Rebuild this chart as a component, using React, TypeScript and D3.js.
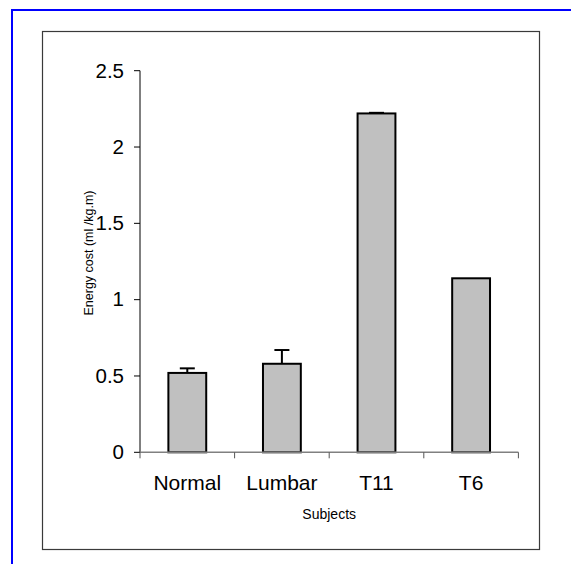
import React from "react";
import * as d3 from "d3";

const categories = ["Normal", "Lumbar", "T11", "T6"];
const values = [0.52, 0.58, 2.22, 1.14];
const errors = [0.03, 0.09, 0.004, 0];
const yTicks = [0, 0.5, 1, 1.5, 2, 2.5];
const yTickLabels = ["0", "0.5", "1", "1.5", "2", "2.5"];
const xTitle = "Subjects";
const yTitle = "Energy cost (ml /kg.m)";

const W = 571;
const H = 564;
const FONT = "'Liberation Sans', Arial, sans-serif";

export default function App() {
  const left = 140;
  const right = 518.4;
  const y0 = 452.3;
  const yTop = 70.7;

  const x = d3
    .scaleBand<string>()
    .domain(categories)
    .range([left, right])
    .paddingInner(0.6)
    .paddingOuter(0.3);
  const y = d3.scaleLinear().domain([0, 2.5]).range([y0, yTop]);
  const step = x.step();
  const bw = x.bandwidth();
  const capHalf = 7.5;

  return (
    <svg
      width={W}
      height={H}
      style={{ position: "absolute", left: 0, top: 0, background: "#fff" }}
      fontFamily={FONT}
    >
      <rect x={0} y={0} width={W} height={H} fill="#fff" />
      {/* blue outer frame */}
      <line x1={11} y1={10} x2={W} y2={10} stroke="#0000ff" strokeWidth={2} />
      <line x1={12} y1={9} x2={12} y2={H} stroke="#0000ff" strokeWidth={2} />
      {/* inner chart frame */}
      <rect x={42.5} y={31.5} width={497} height={518} fill="#fff" stroke="#3a3a3a" strokeWidth={1.2} />

      {/* bars */}
      {categories.map((c, i) => (
        <rect
          key={c}
          x={x(c)!}
          y={y(values[i])}
          width={bw}
          height={y0 - y(values[i])}
          fill="#c0c0c0"
          stroke="#000"
          strokeWidth={2}
        />
      ))}

      {/* error bars */}
      {categories.map((c, i) =>
        errors[i] > 0 ? (
          <g key={c + "e"} stroke="#000" strokeWidth={2}>
            <line
              x1={x(c)! + bw / 2}
              x2={x(c)! + bw / 2}
              y1={y(values[i])}
              y2={y(values[i] + errors[i])}
            />
            <line
              x1={x(c)! + bw / 2 - capHalf}
              x2={x(c)! + bw / 2 + capHalf}
              y1={y(values[i] + errors[i])}
              y2={y(values[i] + errors[i])}
            />
          </g>
        ) : null
      )}

      {/* y axis */}
      <line x1={left} x2={left} y1={yTop} y2={y0} stroke="#000" strokeWidth={1} />
      {yTicks.map((t, i) => (
        <g key={t}>
          <line x1={left - 6} x2={left} y1={y(t)} y2={y(t)} stroke="#000" strokeWidth={1} />
          <text x={124} y={y(t) + 6.8} textAnchor="end" fontSize={20.5} fill="#000">
            {yTickLabels[i]}
          </text>
        </g>
      ))}

      {/* x axis */}
      <line x1={left} x2={right} y1={y0} y2={y0} stroke="#808080" strokeWidth={1.5} />
      {d3.range(categories.length + 1).map((i) => (
        <line
          key={i}
          x1={left + i * step}
          x2={left + i * step}
          y1={y0}
          y2={y0 + 6}
          stroke="#555"
          strokeWidth={1}
        />
      ))}
      {categories.map((c) => (
        <text key={c + "l"} x={x(c)! + bw / 2} y={489.5} textAnchor="middle" fontSize={21} fill="#000">
          {c}
        </text>
      ))}

      <text x={(left + right) / 2} y={518.5} textAnchor="middle" fontSize={14} fill="#000">
        {xTitle}
      </text>
      <text
        transform={`translate(92.5,253) rotate(-90)`}
        textAnchor="middle"
        fontSize={12.5}
        fill="#000"
      >
        {yTitle}
      </text>
    </svg>
  );
}
